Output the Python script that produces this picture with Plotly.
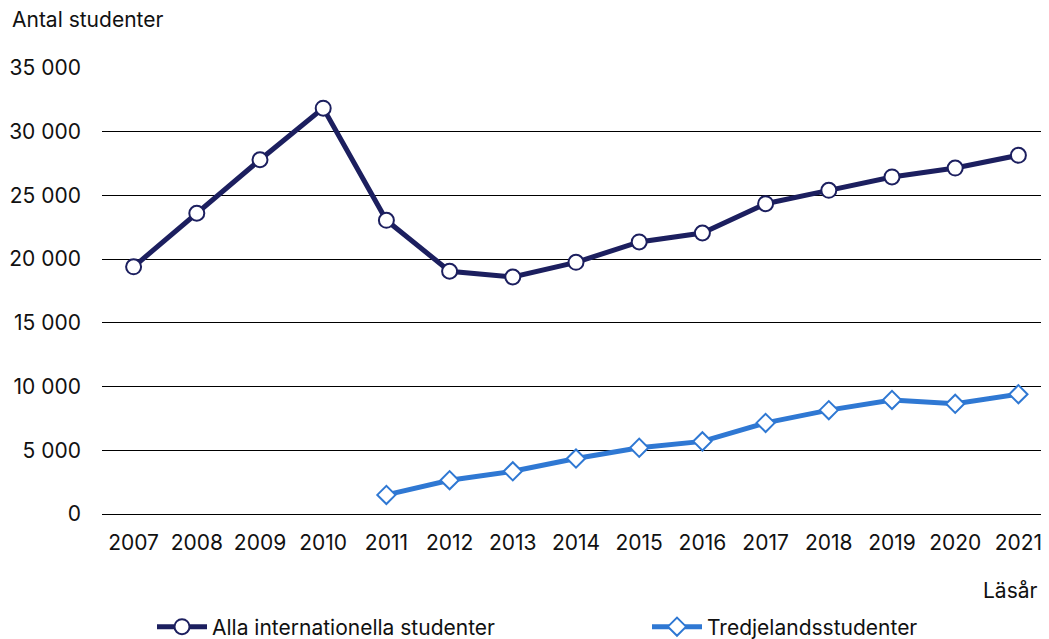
import plotly.graph_objects as go

years = [str(y) for y in range(2007, 2022)]
alla = [19400, 23600, 27800, 31850, 23050, 19050, 18600, 19750, 21350, 22050, 24350, 25400, 26450, 27150, 28150]
tredje_years = [str(y) for y in range(2011, 2022)]
tredje = [1500, 2650, 3350, 4350, 5200, 5700, 7150, 8150, 8950, 8650, 9400]
ytick_vals = [0, 5000, 10000, 15000, 20000, 25000, 30000, 35000]
ytick_text = ["0", "5 000", "10 000", "15 000", "20 000", "25 000", "30 000", "35 000"]

NAVY = "#1c1f5f"
BLUE = "#2f78d3"
FONT = "Inter, Roboto, Liberation Sans, sans-serif"
FS = 21

fig = go.Figure()
fig.add_trace(go.Scatter(
    x=years, y=alla, name="Alla internationella studenter", mode="lines+markers",
    line=dict(color=NAVY, width=5), legend="legend",
    marker=dict(symbol="circle", size=15, color="white", line=dict(color=NAVY, width=2)),
))
fig.add_trace(go.Scatter(
    x=tredje_years, y=tredje, name="Tredjelandsstudenter", mode="lines+markers",
    line=dict(color=BLUE, width=5), legend="legend2",
    marker=dict(symbol="diamond", size=14, color="white", line=dict(color=BLUE, width=2)),
))

leg_common = dict(orientation="h", xref="container", yref="container", y=20/639,
                  yanchor="middle", xanchor="left", itemwidth=50, bgcolor="rgba(0,0,0,0)",
                  font=dict(family=FONT, size=FS, color="#111111"))

fig.update_layout(
    width=1049, height=639,
    margin=dict(l=94, r=7, t=60, b=133, autoexpand=False),
    paper_bgcolor="white", plot_bgcolor="white",
    font=dict(family=FONT, size=FS, color="#111111"),
    showlegend=True,
    legend=dict(x=144/1049, **leg_common),
    legend2=dict(x=639/1049, **leg_common),
    xaxis=dict(type="category", categoryorder="array", categoryarray=years,
               range=[-0.5, 14.5], showgrid=False, showline=False, ticks="",
               tickfont=dict(size=FS), ticklabelstandoff=14, automargin=False),
    yaxis=dict(range=[0, 35000], tickvals=ytick_vals, ticktext=ytick_text,
               showgrid=True, gridcolor="#000000", gridwidth=1,
               zeroline=True, zerolinecolor="#000000", zerolinewidth=1,
               showline=False, ticks="", tickfont=dict(size=FS), ticklabelstandoff=20,
               automargin=False),
    annotations=[
        dict(text="Antal studenter", xref="paper", yref="paper", x=-94/948, y=1.0 + 48/446,
             xanchor="left", yanchor="middle", showarrow=False, font=dict(size=FS), xshift=2),
        dict(text="Läsår", xref="paper", yref="paper", x=1.0, y=-76/446,
             xanchor="right", yanchor="middle", showarrow=False, font=dict(size=FS), xshift=-10),
    ],
)

fig.write_html("out.html")
